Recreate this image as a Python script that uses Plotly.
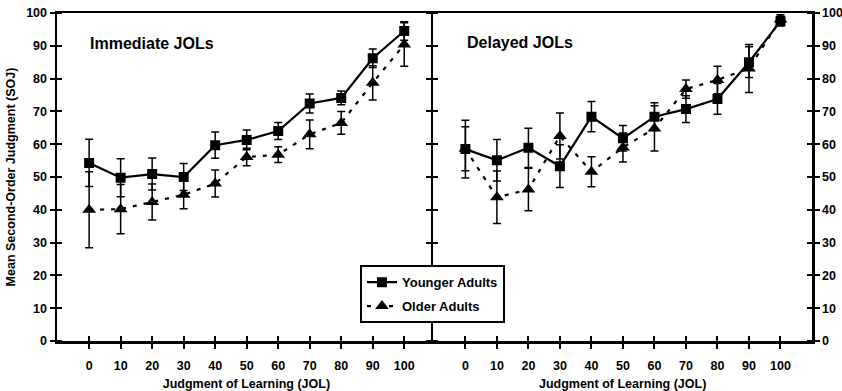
import plotly.graph_objects as go

jol = [0, 10, 20, 30, 40, 50, 60, 70, 80, 90, 100]
jol_labels = ["0", "10", "20", "30", "40", "50", "60", "70", "80", "90", "100"]
soj_ticks = [0, 10, 20, 30, 40, 50, 60, 70, 80, 90, 100]

# Immediate JOLs
young_imm = [54.3, 49.8, 50.9, 50.0, 59.7, 61.3, 64.0, 72.4, 74.1, 86.2, 94.5]
young_imm_err = [7.2, 5.8, 4.9, 4.1, 4.0, 3.0, 2.6, 2.9, 2.1, 2.8, 2.8]
old_imm = [40.0, 40.2, 42.4, 44.6, 48.0, 56.1, 56.8, 63.0, 66.5, 78.7, 90.4]
old_imm_err = [11.6, 7.5, 5.5, 4.3, 4.1, 2.7, 2.4, 4.4, 3.5, 5.2, 6.6]

# Delayed JOLs
young_del = [58.5, 55.1, 58.9, 53.3, 68.4, 61.8, 68.4, 70.7, 73.8, 85.0, 97.5]
young_del_err = [8.8, 6.3, 6.0, 6.5, 4.6, 3.9, 4.2, 4.1, 4.7, 4.7, 1.5]
old_del = [58.6, 43.8, 46.2, 62.5, 51.6, 59.0, 64.8, 76.8, 79.6, 83.1, 98.0]
old_del_err = [6.7, 8.0, 6.5, 7.0, 4.6, 4.4, 6.9, 2.8, 4.2, 7.3, 1.5]

FONT = "Liberation Sans, Arial, sans-serif"
BLACK = "black"

fig = go.Figure()


def add_series(x, y, err, name, xa, ya, solid, show):
    fig.add_trace(go.Scatter(
        x=x, y=y, name=name, xaxis=xa, yaxis=ya,
        mode="lines+markers",
        line=dict(color=BLACK, width=2.2, dash="solid" if solid else "4px,7px"),
        marker=dict(symbol="square" if solid else "triangle-up",
                    size=10 if solid else 12, color=BLACK),
        error_y=dict(type="data", array=err, visible=True, color=BLACK,
                     thickness=1.5, width=4),
        showlegend=show, legendgroup=name,
        legendrank=1 if solid else 2,
    ))


add_series(jol, old_imm, old_imm_err, "Older Adults", "x", "y", False, True)
add_series(jol, young_imm, young_imm_err, "Younger Adults", "x", "y", True, True)
add_series(jol, old_del, old_del_err, "Older Adults", "x2", "y2", False, False)
add_series(jol, young_del, young_del_err, "Younger Adults", "x2", "y2", True, False)

tickfont = dict(family=FONT, size=12.5, color=BLACK, weight="bold")
titlefont = dict(family=FONT, size=12.5, color=BLACK, weight="bold")

xcommon = dict(
    range=[-10.2, 110], tickmode="array", tickvals=jol, ticktext=jol_labels,
    showgrid=False, zeroline=False, showline=True, linecolor=BLACK, linewidth=2.5,
    mirror=True, ticks="outside", ticklen=5, tickwidth=2, tickcolor=BLACK,
    minor=dict(ticks="inside", tickmode="array", tickvals=jol, ticklen=5,
               tickwidth=2, tickcolor=BLACK, showgrid=False),
    tickfont=tickfont, ticklabelstandoff=6, automargin=False,
    title=dict(text="Judgment of Learning (JOL)", font=titlefont, standoff=8),
    fixedrange=True,
)
ycommon = dict(
    range=[0, 100], tickmode="array", tickvals=soj_ticks,
    showgrid=False, zeroline=False, showline=True, linecolor=BLACK, linewidth=2.5,
    mirror="ticks", ticks="outside", ticklen=5, tickwidth=2, tickcolor=BLACK,
    minor=dict(ticks="inside", tickmode="array", tickvals=soj_ticks, ticklen=5,
               tickwidth=2, tickcolor=BLACK, showgrid=False),
    tickfont=tickfont, fixedrange=True, automargin=False,
)

PW = 842 - 57 - 30
half_lw = 1.25 / PW

fig.update_layout(
    width=842, height=391,
    margin=dict(l=57, r=30, t=13, b=50, autoexpand=False),
    paper_bgcolor="white", plot_bgcolor="white",
    font=dict(family=FONT, color=BLACK, size=12),
    xaxis=dict(domain=[0, 0.5 + half_lw], anchor="y", **xcommon),
    xaxis2=dict(domain=[0.5 - half_lw, 1], anchor="y2", **xcommon),
    yaxis=dict(anchor="x", side="left",
               title=dict(text="Mean Second-Order Judgment (SOJ)", font=titlefont, standoff=8),
               **ycommon),
    yaxis2=dict(anchor="x2", side="right", **ycommon),
    legend=dict(
        x=(360 - 57) / PW, y=(340.7 - 265) / 327.7, xanchor="left", yanchor="top",
        bgcolor="white", bordercolor=BLACK, borderwidth=2,
        font=dict(family=FONT, size=13, color=BLACK, weight="bold"),
        traceorder="grouped", tracegroupgap=4,
    ),
    annotations=[
        dict(text="Immediate JOLs", xref="paper", yref="paper",
             x=(88 - 57) / PW, y=(340.7 - 43) / 327.7, xanchor="left", yanchor="middle",
             showarrow=False, font=dict(family=FONT, size=16, color=BLACK, weight="bold")),
        dict(text="Delayed JOLs", xref="paper", yref="paper",
             x=(465 - 57) / PW, y=(340.7 - 42) / 327.7, xanchor="left", yanchor="middle",
             showarrow=False, font=dict(family=FONT, size=16, color=BLACK, weight="bold")),
    ],
)

fig.write_html(
    "out.html",
    config={"displayModeBar": False, "staticPlot": True},
    post_script="document.body.style.margin='0px';document.body.style.overflow='hidden';",
)
